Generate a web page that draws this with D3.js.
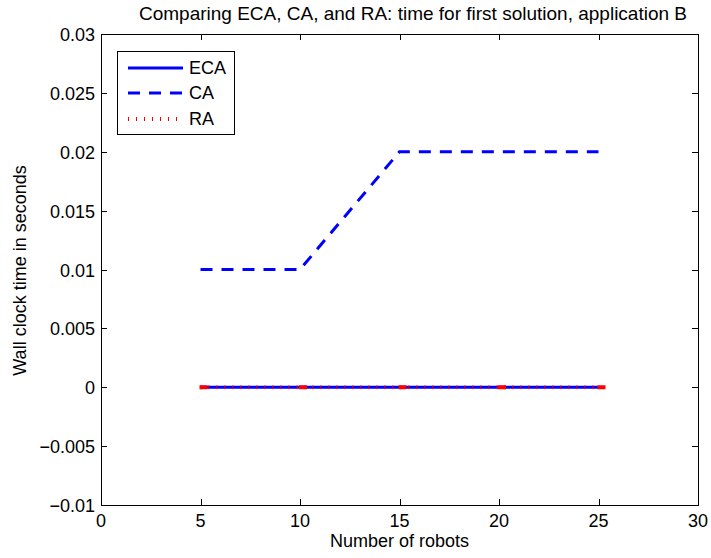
<!DOCTYPE html>
<html><head><meta charset="utf-8">
<script src="https://cdn.jsdelivr.net/npm/d3@7"></script>
<style>body{margin:0;background:#fff}svg{display:block}text{font-family:"Liberation Sans",Arial,sans-serif;fill:#000}</style>
</head><body><svg id="c" width="711" height="558"></svg>
<script>
const robots = [5, 10, 15, 20, 25];
const eca = [0, 0, 0, 0, 0];
const ca = [0.01, 0.01, 0.02, 0.02, 0.02];
const ra = [0, 0, 0, 0, 0];
const xTicks = [0, 5, 10, 15, 20, 25, 30];
const yTicks = [-0.01, -0.005, 0, 0.005, 0.01, 0.015, 0.02, 0.025, 0.03];
const yTickLabels = ["\u22120.01", "\u22120.005", "0", "0.005", "0.01", "0.015", "0.02", "0.025", "0.03"];
const seriesNames = ["ECA", "CA", "RA"];

const L = 101, R = 698, T = 34, B = 505;
const svg = d3.select("#c");
const x = d3.scaleLinear().domain([0, 30]).range([L, R]);
const y = d3.scaleLinear().domain([-0.01, 0.03]).range([B, T]);

svg.append("rect").attr("x", L).attr("y", T).attr("width", R - L).attr("height", B - T)
  .attr("fill", "#fff").attr("stroke", "none");

const line = d3.line().x(d => x(d[0])).y(d => y(d[1]));
const styles = [
  {color: "#0000ff", w: 3, dash: null},
  {color: "#0000ff", w: 3, dash: "12,9"},
  {color: "#ff0000", w: 4, dash: "1,7"}
];
[eca, ca, ra].forEach((s, i) => {
  svg.append("path").datum(robots.map((r, j) => [r, s[j]]))
    .attr("d", line).attr("fill", "none")
    .attr("stroke", styles[i].color).attr("stroke-width", styles[i].w)
    .attr("stroke-dasharray", styles[i].dash);
});
// RA vertex marks
svg.selectAll(".ram").data(robots).enter().append("rect")
  .attr("x", (d) => x(d) - 1).attr("y", (d, j) => y(ra[j]) - 2)
  .attr("width", 8).attr("height", 4).attr("fill", "#ff0000");

// axes box
const g = svg.append("g");
g.append("rect").attr("x", L + 0.5).attr("y", T + 0.5).attr("width", R - L).attr("height", B - T)
  .attr("fill", "none").attr("stroke", "#000").attr("stroke-width", 1);

const tl = 6;
const FS = 18;
xTicks.forEach(t => {
  const px = Math.round(x(t)) + 0.5;
  g.append("line").attr("x1", px).attr("x2", px).attr("y1", B).attr("y2", B - tl).attr("stroke", "#000");
  g.append("line").attr("x1", px).attr("x2", px).attr("y1", T).attr("y2", T + tl).attr("stroke", "#000");
  g.append("text").attr("x", x(t)).attr("y", B + 22).attr("text-anchor", "middle")
    .attr("font-size", FS).text(t);
});
yTicks.forEach((t, i) => {
  const py = Math.round(y(t)) + 0.5;
  g.append("line").attr("x1", L).attr("x2", L + tl).attr("y1", py).attr("y2", py).attr("stroke", "#000");
  g.append("line").attr("x1", R).attr("x2", R - tl).attr("y1", py).attr("y2", py).attr("stroke", "#000");
  g.append("text").attr("x", L - 6).attr("y", y(t) + 7).attr("text-anchor", "end")
    .attr("font-size", FS).text(yTickLabels[i]);
});

svg.append("text").attr("x", 413).attr("y", 20).attr("text-anchor", "middle")
  .attr("font-size", 19).text("Comparing ECA, CA, and RA: time for first solution, application B");
svg.append("text").attr("x", (L + R) / 2).attr("y", 547).attr("text-anchor", "middle")
  .attr("font-size", FS).text("Number of robots");
svg.append("text").attr("transform", "translate(26," + ((T + B) / 2 + 1) + ") rotate(-90)")
  .attr("text-anchor", "middle").attr("font-size", FS).text("Wall clock time in seconds");

// legend
const lg = svg.append("g");
lg.append("rect").attr("x", 117.5).attr("y", 51.5).attr("width", 117).attr("height", 83)
  .attr("fill", "#fff").attr("stroke", "#000");
const ly = [68, 93, 119];
seriesNames.forEach((n, i) => {
  lg.append("line").attr("x1", 128).attr("x2", 183).attr("y1", ly[i]).attr("y2", ly[i])
    .attr("stroke", styles[i].color).attr("stroke-width", styles[i].w)
    .attr("stroke-dasharray", styles[i].dash);
  lg.append("text").attr("x", 189).attr("y", ly[i] + 6).attr("font-size", FS).text(n);
});
</script></body></html>
